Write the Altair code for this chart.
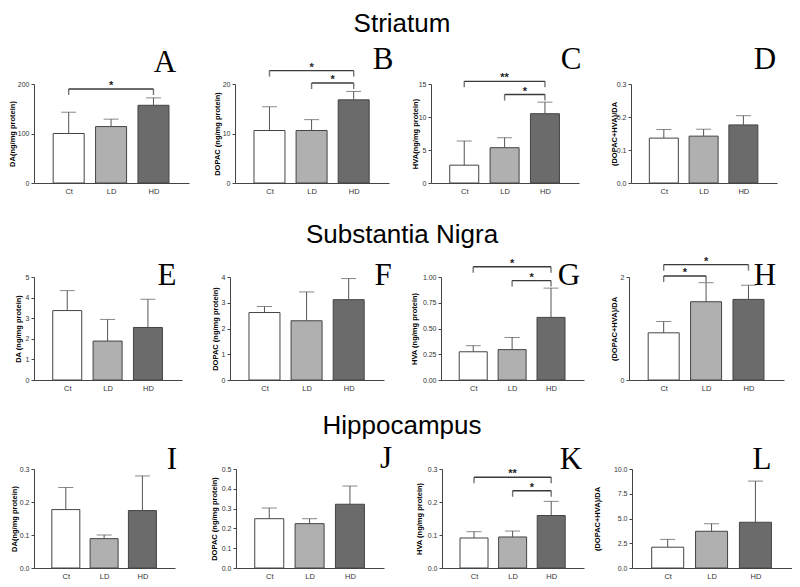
import altair as alt
import pandas as pd

# ---------------- data ----------------
groups = ["Ct", "LD", "HD"]
letters = ["A", "B", "C", "D", "E", "F", "G", "H", "I", "J", "K", "L"]
region_titles = ["Striatum", "Substantia Nigra", "Hippocampus"]
y_titles = [
    "DA(ng/mg protein)", "DOPAC (ng/mg protein)", "HVA(ng/mg protein)", "(DOPAC+HVA)/DA",
    "DA (ng/mg protein)", "DOPAC (ng/mg protein)", "HVA (ng/mg protein)", "(DOPAC+HVA)/DA",
    "DA(ng/mg protein)", "DOPAC (ng/mg protein)", "HVA (ng/mg protein)", "(DOPAC+HVA)/DA",
]
means = [
    [100, 114, 157], [10.6, 10.6, 16.8], [2.7, 5.35, 10.5], [0.136, 0.142, 0.176],
    [3.37, 1.89, 2.55], [2.62, 2.30, 3.12], [0.274, 0.295, 0.608], [0.916, 1.52, 1.565],
    [0.177, 0.089, 0.174], [0.249, 0.224, 0.322], [0.091, 0.094, 0.159], [2.1, 3.71, 4.62],
]
sems = [
    [43, 15, 15], [4.8, 2.2, 1.7], [3.66, 1.51, 1.75], [0.026, 0.021, 0.028],
    [0.97, 1.05, 1.37], [0.23, 1.12, 0.82], [0.059, 0.118, 0.284], [0.22, 0.37, 0.275],
    [0.067, 0.011, 0.105], [0.054, 0.025, 0.092], [0.019, 0.018, 0.043], [0.79, 0.76, 4.16],
]
y_ticks = [
    [0, 100, 200], [0, 10, 20], [0, 5, 10, 15], [0, 0.1, 0.2, 0.3],
    [0, 1, 2, 3, 4, 5], [0, 1, 2, 3, 4], [0, 0.25, 0.5, 0.75, 1.0], [0, 1, 2],
    [0, 0.1, 0.2, 0.3], [0, 0.1, 0.2, 0.3, 0.4, 0.5], [0, 0.1, 0.2, 0.3], [0, 2.5, 5, 7.5, 10],
]
tick_formats = ["d", "d", "d", ".1f", "d", "d", ".2f", "d", ".1f", ".1f", ".1f", ".1f"]

# significance brackets
sig_panel = [0, 1, 1, 2, 2, 6, 6, 7, 7, 10, 10]
sig_from = ["Ct", "Ct", "LD", "Ct", "LD", "Ct", "LD", "Ct", "Ct", "Ct", "LD"]
sig_to = ["HD", "HD", "HD", "HD", "HD", "HD", "HD", "HD", "LD", "HD", "HD"]
sig_level = [190, 22.7, 20.2, 15.4, 13.4, 1.10, 0.965, 2.24, 2.02, 0.275, 0.234]
sig_label = ["*", "*", "*", "**", "*", "*", "*", "*", "*", "**", "*"]

# ---------------- layout / style ----------------
bar_colors = ["#ffffff", "#b0b0b0", "#6b6b6b"]
widths = [155, 154, 148, 146, 148, 154, 143, 155, 141, 148, 142, 160]
row_heights = [99, 103, 99]
row_gaps = [[46, 42, 52], [48, 57, 45], [61, 58, 48]]
row_tops_step = [193, 192]
title_x = [-22, -18, -16, -17, -15.5, -15, -27, -15, -20, -22, -23, -35]
letter_pos = [(131, -12), (148, -15), (140, -15), (134, -15),
              (133, 8), (153, 8), (128, 8), (136, 8),
              (138, 0), (150, -1), (129, 0), (130, 0)]
region_pos = [(368, -52), (368, -34), (368, -35)]
label_expr = "[" + ",".join("'%s'" % g for g in groups) + "][datum.value]"
gidx = {g: k for k, g in enumerate(groups)}


def panel(i):
    W = widths[i]
    H = row_heights[i // 4]
    ymax = y_ticks[i][-1]
    df = pd.DataFrame({
        "group": groups,
        "pos": list(range(len(groups))),
        "mean": means[i],
        "top": [m + s for m, s in zip(means[i], sems[i])],
    })
    xs = alt.Scale(domain=[-0.7, 2.72], nice=False, zero=False)
    ys = alt.Scale(domain=[0, ymax], nice=False, zero=True)
    xaxis = alt.Axis(values=[0, 1, 2], labelExpr=label_expr, ticks=False, grid=False,
                     title=None, labelFontSize=7.5, labelPadding=4)
    yaxis = alt.Axis(values=y_ticks[i], format=tick_formats[i], grid=False, title=y_titles[i],
                     titleX=title_x[i], titleBaseline="middle", titleFontSize=7.5,
                     titleFontWeight="bold", labelFontSize=7, tickSize=3, labelPadding=2,
                     labelOverlap=False, labelBound=False, labelFlush=False)

    def X(f):
        return alt.X(f, scale=xs, axis=xaxis)

    def Y(f):
        return alt.Y(f, scale=ys, axis=yaxis)

    bw = round(W / 3.42 * 0.68)
    base = alt.Chart(df)
    bars = base.mark_bar(size=bw, stroke="#444444", strokeWidth=1, orient="vertical").encode(
        x=X("pos:Q"), y=Y("mean:Q"),
        fill=alt.Fill("group:N", scale=alt.Scale(domain=groups, range=bar_colors), legend=None),
    )
    err = base.mark_rule(color="#555555", strokeWidth=1).encode(x=X("pos:Q"), y=Y("mean:Q"), y2="top:Q")
    cap = base.mark_tick(orient="horizontal", size=15, thickness=1, color="#555555").encode(
        x=X("pos:Q"), y=Y("top:Q"))
    layers = [bars, err, cap]

    ks = [k for k, p in enumerate(sig_panel) if p == i]
    if ks:
        sdf = pd.DataFrame({
            "x1": [gidx[sig_from[k]] for k in ks],
            "x2": [gidx[sig_to[k]] for k in ks],
            "level": [sig_level[k] for k in ks],
            "label": [sig_label[k] for k in ks],
        })
        sdf["xm"] = (sdf["x1"] + sdf["x2"]) / 2
        edf = pd.DataFrame({
            "xe": list(sdf["x1"]) + list(sdf["x2"]),
            "level": list(sdf["level"]) * 2,
        })
        hline = alt.Chart(sdf).mark_rule(color="#3a3a3a", strokeWidth=1.4).encode(
            x=X("x1:Q"), x2="x2:Q", y=Y("level:Q"))
        drops = alt.Chart(edf).mark_tick(orient="vertical", size=6, thickness=1.4, yOffset=3,
                                         color="#3a3a3a").encode(x=X("xe:Q"), y=Y("level:Q"))
        stars = alt.Chart(sdf).mark_text(fontSize=11, fontWeight="bold", color="#222222",
                                         baseline="alphabetic", dy=0).encode(
            x=X("xm:Q"), y=Y("level:Q"), text="label:N")
        layers += [hline, drops, stars]

    lx, ly = letter_pos[i]
    letter = alt.Chart(pd.DataFrame({"t": [letters[i]]})).mark_text(
        font="Liberation Serif", fontSize=31, align="center", baseline="alphabetic", color="black"
    ).encode(text="t:N", x=alt.value(lx), y=alt.value(ly))
    layers.append(letter)

    if i % 4 == 0:
        rx, ry = region_pos[i // 4]
        rt = alt.Chart(pd.DataFrame({"t": [region_titles[i // 4]]})).mark_text(
            font="Liberation Sans", fontSize=26, align="center", baseline="alphabetic", color="black"
        ).encode(text="t:N", x=alt.value(rx), y=alt.value(ry))
        layers.append(rt)

    return alt.layer(*layers).properties(width=W, height=H)


def row(r):
    p = [panel(4 * r + c) for c in range(4)]
    g = row_gaps[r]
    c = alt.hconcat(p[2], p[3], spacing=g[2], bounds="flush")
    c = alt.hconcat(p[1], c, spacing=g[1], bounds="flush")
    c = alt.hconcat(p[0], c, spacing=g[0], bounds="flush")
    return c


# nested concat groups report no height under flush bounds, so the spacing is top-to-top
chart = alt.vconcat(
    row(0),
    alt.vconcat(row(1), row(2), spacing=row_tops_step[1], bounds="flush"),
    spacing=row_tops_step[0], bounds="flush",
).properties(padding={"left": 0, "top": 3, "right": 0, "bottom": 0}).configure_view(
    stroke=None
).configure_axis(
    domainColor="#444444", tickColor="#444444", labelColor="#333333",
    labelFont="Liberation Sans", titleFont="Liberation Sans", domainWidth=1, tickWidth=1,
)

chart.save("out.html", embed_options={"renderer": "svg", "actions": False})
